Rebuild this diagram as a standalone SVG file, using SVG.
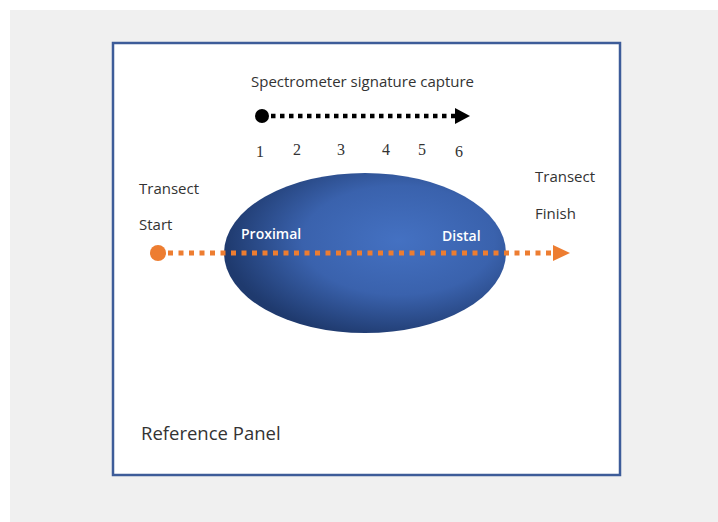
<svg xmlns="http://www.w3.org/2000/svg" width="718" height="522" viewBox="0 0 718 522">
<style>
.lbl{font-family:"Open Sans","Liberation Sans",sans-serif;fill:#333;font-size:15px}
.num{font-family:"Liberation Serif",serif;fill:#333;font-size:16px}
.in{font-family:"Open Sans","Liberation Sans",sans-serif;fill:#fff;font-size:14px;font-weight:600}
</style>
<defs>
<radialGradient id="g" cx="0.62" cy="0.42" r="0.62">
<stop offset="0" stop-color="#4471c2"/>
<stop offset="0.55" stop-color="#3a62ad"/>
<stop offset="1" stop-color="#1f3a6e"/>
</radialGradient>
</defs>
<rect x="10" y="10" width="708" height="512" fill="#f0f0f0"/>
<g id="panel">
<rect x="113" y="43" width="507" height="432" fill="#fff" stroke="#3d5c99" stroke-width="2.5"/>
<text class="lbl" x="141" y="440" style="font-size:18.5px">Reference Panel</text>
</g>
<g id="sample">
<ellipse cx="365" cy="253" rx="141" ry="80" fill="url(#g)"/>
<text class="in" x="241" y="239">Proximal</text>
<text class="in" x="442" y="241">Distal</text>
</g>
<g id="labels">
<text class="lbl" x="251" y="87">Spectrometer signature capture</text>
<text class="lbl" x="139" y="194">Transect</text>
<text class="lbl" x="139" y="230">Start</text>
<text class="lbl" x="535" y="182">Transect</text>
<text class="lbl" x="535" y="219">Finish</text>
<text class="num" x="256" y="157">1</text>
<text class="num" x="293" y="155">2</text>
<text class="num" x="337" y="155">3</text>
<text class="num" x="382" y="155">4</text>
<text class="num" x="418" y="155">5</text>
<text class="num" x="455" y="157">6</text>
</g>
<g id="connectors">
<circle cx="262" cy="116" r="7" fill="#000"/>
<line x1="271" y1="116" x2="455" y2="116" stroke="#000" stroke-width="4.5" stroke-dasharray="4.5 4.5"/>
<polygon points="455,108 470,116 455,124" fill="#000"/>
<circle cx="158" cy="253" r="8" fill="#ed7d31"/>
<line x1="168" y1="253" x2="553" y2="253" stroke="#ed7d31" stroke-width="5" stroke-dasharray="5 5.5"/>
<polygon points="553,245 570,253 553,261" fill="#ed7d31"/>
</g>
</svg>
